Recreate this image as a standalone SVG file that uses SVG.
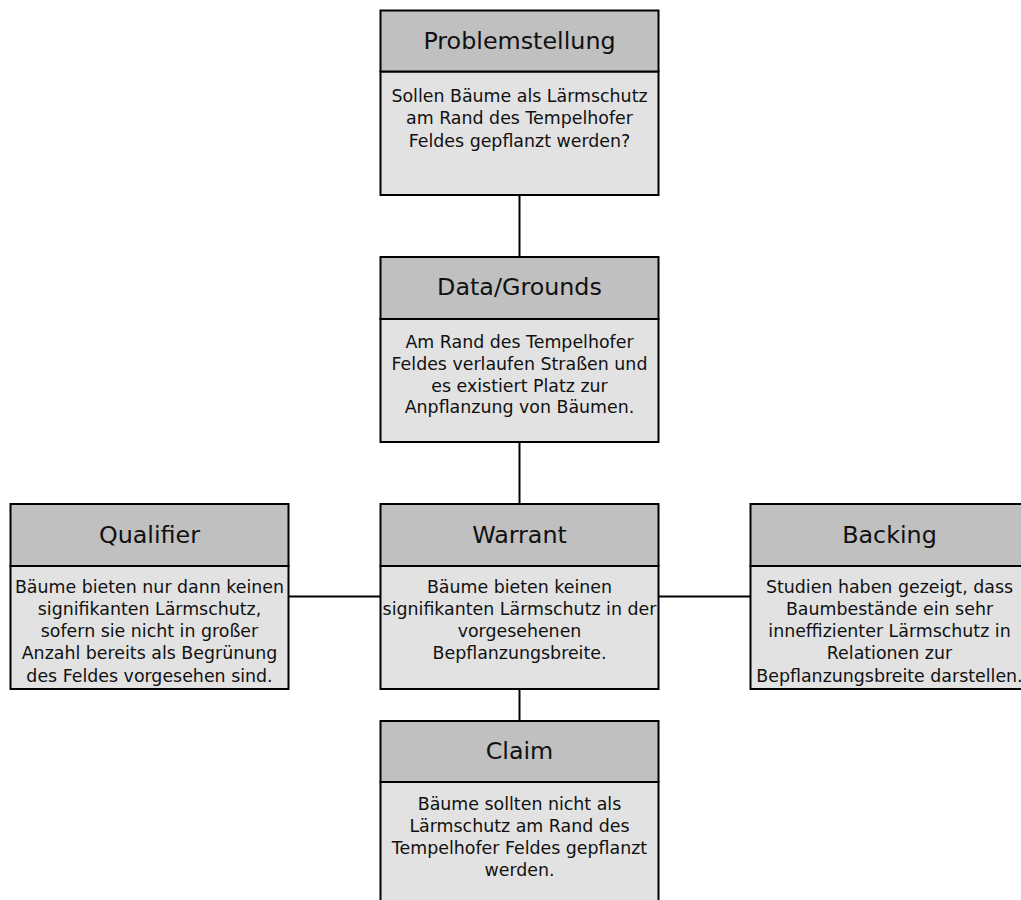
<svg xmlns="http://www.w3.org/2000/svg" width="1021" height="900" viewBox="0 0 1021 900">
  <style>
    .hd { fill: #c0c0c0; stroke: #000; stroke-width: 2; }
    .bd { fill: #e2e2e2; stroke: #000; stroke-width: 2; }
    .title { font-family: "DejaVu Sans", sans-serif; font-size: 23.8px; fill: #111; text-anchor: middle; }
    .body { font-family: "DejaVu Sans", sans-serif; font-size: 17.4px; fill: #111; text-anchor: middle; }
    .link { stroke: #000; stroke-width: 2; fill: none; }
  </style>
  <rect width="1021" height="900" fill="#fff"/>

  <g id="connectors">
    <line class="link" x1="519.5" y1="195" x2="519.5" y2="257"/>
    <line class="link" x1="519.5" y1="442" x2="519.5" y2="504"/>
    <line class="link" x1="519.5" y1="689" x2="519.5" y2="721"/>
    <line class="link" x1="288.5" y1="596.5" x2="380.5" y2="596.5"/>
    <line class="link" x1="658.5" y1="596.5" x2="750.5" y2="596.5"/>
  </g>

  <g id="problemstellung">
    <rect class="bd" x="380.5" y="71.5" width="278" height="123.5"/>
    <rect class="hd" x="380.5" y="10.5" width="278" height="61"/>
    <text class="title" x="519.5" y="48.5">Problemstellung</text>
    <text class="body" x="519.5" y="101.7">Sollen Bäume als Lärmschutz</text>
    <text class="body" x="519.5" y="124">am Rand des Tempelhofer</text>
    <text class="body" x="519.5" y="146.5">Feldes gepflanzt werden?</text>
  </g>

  <g id="data-grounds">
    <rect class="bd" x="380.5" y="319" width="278" height="123"/>
    <rect class="hd" x="380.5" y="257" width="278" height="62"/>
    <text class="title" x="519.5" y="295">Data/Grounds</text>
    <text class="body" x="519.5" y="348.3">Am Rand des Tempelhofer</text>
    <text class="body" x="519.5" y="370">Feldes verlaufen Straßen und</text>
    <text class="body" x="519.5" y="391.7">es existiert Platz zur</text>
    <text class="body" x="519.5" y="413.3">Anpflanzung von Bäumen.</text>
  </g>

  <g id="qualifier">
    <rect class="bd" x="10.5" y="566" width="278" height="123"/>
    <rect class="hd" x="10.5" y="504" width="278" height="62"/>
    <text class="title" x="149.5" y="543">Qualifier</text>
    <text class="body" x="149.5" y="593.3">Bäume bieten nur dann keinen</text>
    <text class="body" x="149.5" y="615">signifikanten Lärmschutz,</text>
    <text class="body" x="149.5" y="637.3">sofern sie nicht in großer</text>
    <text class="body" x="149.5" y="659.3">Anzahl bereits als Begrünung</text>
    <text class="body" x="149.5" y="681.5">des Feldes vorgesehen sind.</text>
  </g>

  <g id="warrant">
    <rect class="bd" x="380.5" y="566" width="278" height="123"/>
    <rect class="hd" x="380.5" y="504" width="278" height="62"/>
    <text class="title" x="519.5" y="543">Warrant</text>
    <text class="body" x="519.5" y="593.3">Bäume bieten keinen</text>
    <text class="body" x="519.5" y="615">signifikanten Lärmschutz in der</text>
    <text class="body" x="519.5" y="637.3">vorgesehenen</text>
    <text class="body" x="519.5" y="659.3">Bepflanzungsbreite.</text>
  </g>

  <g id="backing">
    <rect class="bd" x="750.5" y="566" width="278" height="123"/>
    <rect class="hd" x="750.5" y="504" width="278" height="62"/>
    <text class="title" x="889.5" y="543">Backing</text>
    <text class="body" x="889.5" y="593.3">Studien haben gezeigt, dass</text>
    <text class="body" x="889.5" y="615">Baumbestände ein sehr</text>
    <text class="body" x="889.5" y="637.3">inneffizienter Lärmschutz in</text>
    <text class="body" x="889.5" y="659.3">Relationen zur</text>
    <text class="body" x="889.5" y="681.5">Bepflanzungsbreite darstellen.</text>
  </g>

  <g id="claim">
    <rect class="bd" x="380.5" y="782" width="278" height="130"/>
    <rect class="hd" x="380.5" y="721" width="278" height="61"/>
    <text class="title" x="519.5" y="759">Claim</text>
    <text class="body" x="519.5" y="810">Bäume sollten nicht als</text>
    <text class="body" x="519.5" y="831.7">Lärmschutz am Rand des</text>
    <text class="body" x="519.5" y="854">Tempelhofer Feldes gepflanzt</text>
    <text class="body" x="519.5" y="875.5">werden.</text>
  </g>
</svg>
